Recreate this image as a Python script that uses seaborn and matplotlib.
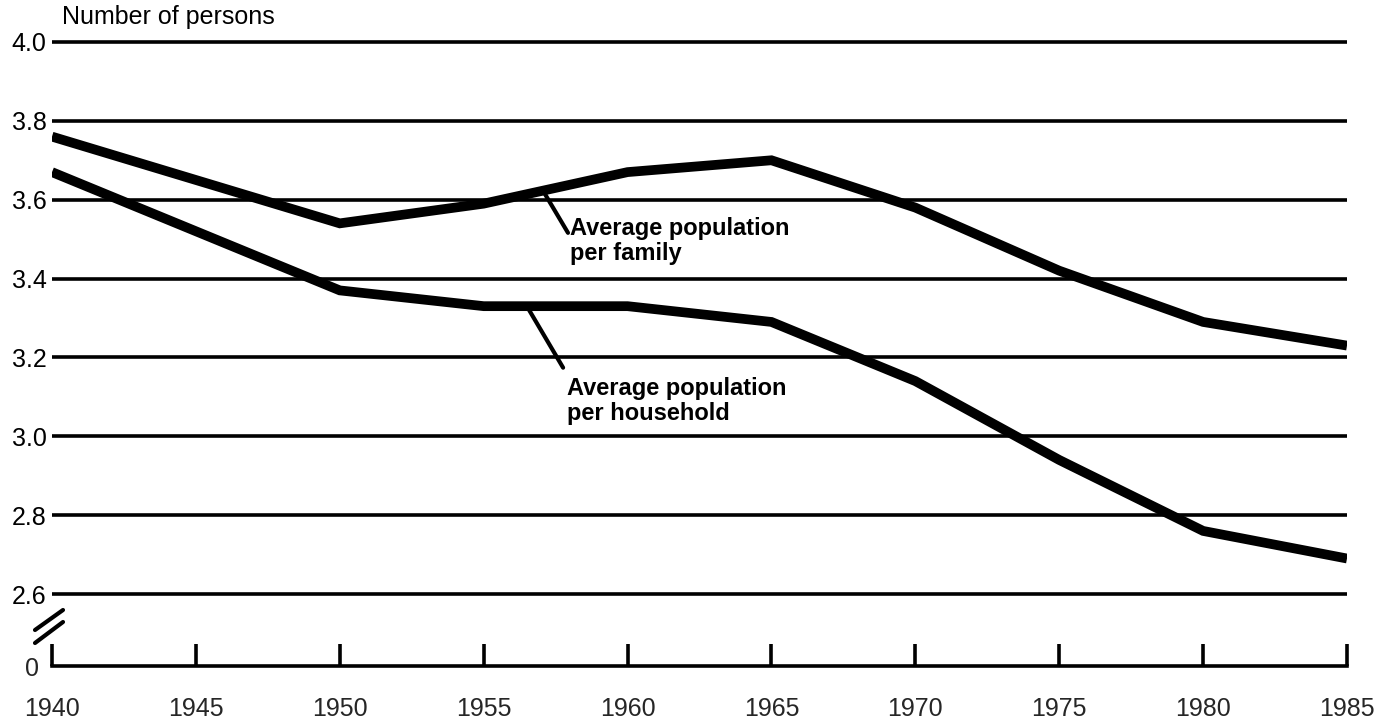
import numpy as np
import pandas as pd
import matplotlib
matplotlib.use("Agg")
import matplotlib.pyplot as plt
from matplotlib.lines import Line2D
import seaborn as sns

# ---- data ----
years = [1940, 1950, 1955, 1960, 1965, 1970, 1975, 1980, 1985]
family = [3.76, 3.54, 3.59, 3.67, 3.70, 3.58, 3.42, 3.29, 3.23]
household = [3.67, 3.37, 3.33, 3.33, 3.29, 3.14, 2.94, 2.76, 2.69]
y_ticks = [2.6, 2.8, 3.0, 3.2, 3.4, 3.6, 3.8, 4.0]
x_ticks = [1940, 1945, 1950, 1955, 1960, 1965, 1970, 1975, 1980, 1985]
y_title = "Number of persons"
label_family = "Average population\nper family"
label_household = "Average population\nper household"

sns.set_style("white")
plt.rcParams["font.family"] = ["Liberation Sans", "DejaVu Sans"]

df = pd.DataFrame({
    "year": years * 2,
    "value": family + household,
    "series": ["family"] * len(years) + ["household"] * len(years),
})

W, H = 1375, 721
fig = plt.figure(figsize=(W / 100, H / 100), dpi=100)

left_px, right_px = 52, 1347
top_px, bot_px = 34.1, 601.9
ax = fig.add_axes([left_px / W, 1 - bot_px / H, (right_px - left_px) / W, (bot_px - top_px) / H])

sns.lineplot(data=df, x="year", y="value", units="series", estimator=None,
             color="black", linewidth=7, ax=ax, legend=False,
             solid_joinstyle="miter", solid_capstyle="butt")

ax.set_xlim(1940, 1985)
ax.set_ylim(2.58, 4.02)
ax.set_yticks(y_ticks)
ax.set_yticklabels([f"{v:.1f}" for v in y_ticks])
ax.set_xticks([])
ax.grid(axis="y", color="black", linewidth=2.6)
ax.grid(axis="x", visible=False)
ax.set_axisbelow(True)
for s in ax.spines.values():
    s.set_visible(False)
ax.tick_params(axis="y", length=0, labelsize=18, pad=4, labelcolor="black")
ax.set_xlabel("")
ax.set_ylabel("")

# annotations with leader lines
def interp(series, x):
    return float(np.interp(x, years, series))

ax.annotate("", xy=(1957.06, interp(family, 1957.06)), xytext=(1957.93, 3.516),
            arrowprops=dict(arrowstyle="-", color="black", lw=3, shrinkA=0, shrinkB=0))
ax.text(1958.0, 3.556, label_family, ha="left", va="top", fontsize=17,
        fontweight="bold", linespacing=1.1, color="black")

ax.annotate("", xy=(1956.5, interp(household, 1956.5)), xytext=(1957.76, 3.174),
            arrowprops=dict(arrowstyle="-", color="black", lw=3, shrinkA=0, shrinkB=0))
ax.text(1957.9, 3.150, label_household, ha="left", va="top", fontsize=17,
        fontweight="bold", linespacing=1.1, color="black")

# bottom (zero) axis
base_px = 666
ax0 = fig.add_axes([left_px / W, 1 - base_px / H, (right_px - left_px) / W, 30 / H])
ax0.set_xlim(1940, 1985)
ax0.set_ylim(0, 1)
ax0.set_facecolor("none")
for k in ["top", "right", "left"]:
    ax0.spines[k].set_visible(False)
ax0.spines["bottom"].set_linewidth(2.6)
ax0.spines["bottom"].set_color("black")
ax0.set_xticks(x_ticks)
ax0.set_xticklabels([str(v) for v in x_ticks])
ax0.tick_params(axis="x", bottom=True, direction="in", length=16, width=2.6, color="black",
                labelsize=18, pad=22)
ax0.set_yticks([0])
ax0.set_yticklabels(["0"])
ax0.tick_params(axis="y", left=False, length=0, labelsize=18, pad=9)

# axis break marks
for (x1, y1, x2, y2) in [(35, 630, 63, 610), (35, 643, 63, 622)]:
    fig.add_artist(Line2D([x1 / W, x2 / W], [1 - y1 / H, 1 - y2 / H],
                          transform=fig.transFigure, color="black", lw=3))

fig.text(62 / W, 1 - 17 / H, y_title, ha="left", va="center", fontsize=18, color="black")

fig.savefig("out.png", dpi=100, facecolor="white")
